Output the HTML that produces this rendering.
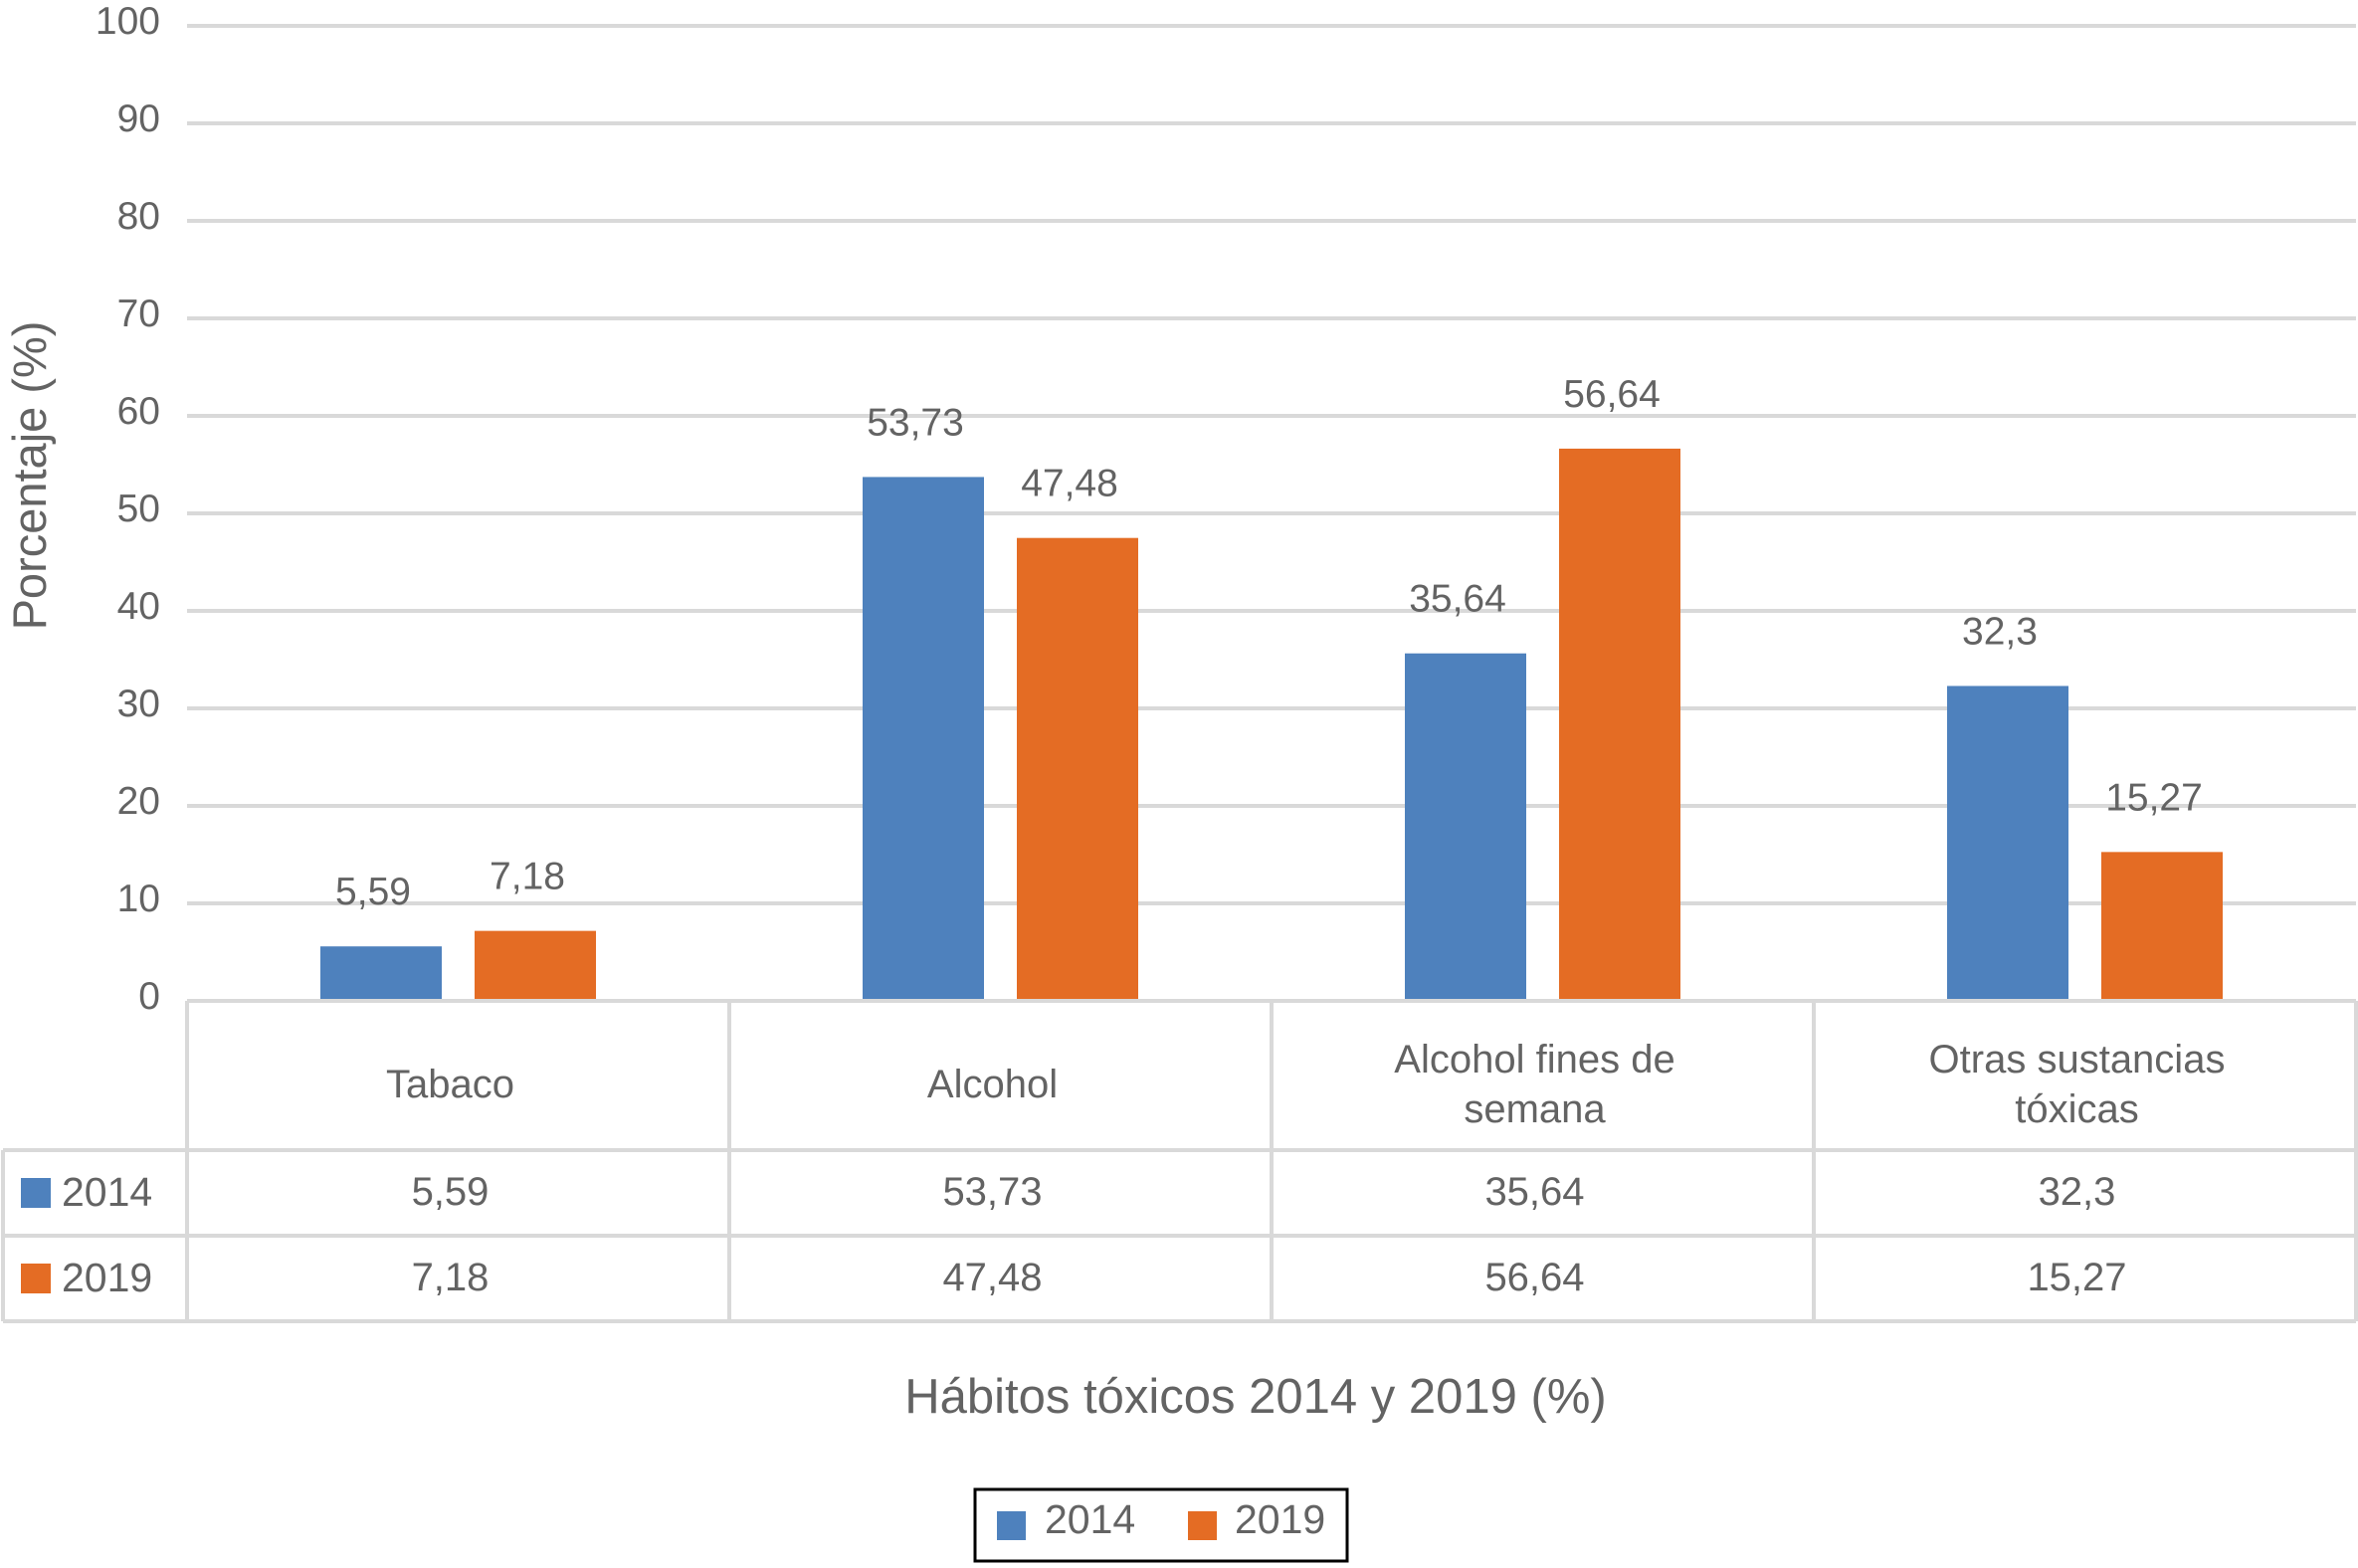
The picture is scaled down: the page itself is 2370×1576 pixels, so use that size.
<!DOCTYPE html>
<html><head><meta charset="utf-8">
<style>
html,body{margin:0;padding:0;background:#fff;}
svg text{font-family:"Liberation Sans",Arial,sans-serif;fill:#636363;}
</style></head>
<body>
<svg id="chart" width="2370" height="1571" viewBox="0 0 2370 1571" xmlns="http://www.w3.org/2000/svg">
<g id="grid"></g>
<g id="yticks"></g>
<g id="bars"></g>
<g id="labels"></g>
<g id="table"></g>
<text transform="translate(46,478) rotate(-90)" text-anchor="middle" font-size="47">Porcentaje (%)</text>
<text x="1262" y="1420" text-anchor="middle" font-size="49">Hábitos tóxicos 2014 y 2019 (%)</text>
<g>
<rect x="980" y="1497" width="374" height="72" fill="#fff" stroke="#000" stroke-width="3"/>
<rect x="1002" y="1519" width="29" height="29" fill="#4e81bd"/>
<text x="1050" y="1541" font-size="41">2014</text>
<rect x="1194" y="1519" width="29" height="29" fill="#e46c24"/>
<text x="1241" y="1541" font-size="41">2019</text>
</g>
</svg>
<script>
const categories = [["Tabaco"],["Alcohol"],["Alcohol fines de","semana"],["Otras sustancias","tóxicas"]];
const values2014 = [5.59, 53.73, 35.64, 32.3];
const values2019 = [7.18, 47.48, 56.64, 15.27];
const labels2014 = ["5,59","53,73","35,64","32,3"];
const labels2019 = ["7,18","47,48","56,64","15,27"];
const yTicks = [0,10,20,30,40,50,60,70,80,90,100];
const seriesNames = ["2014","2019"];

const NS="http://www.w3.org/2000/svg";
const L=188, R=2368, Y0=1006, Y100=26;
const y = v => Y0 - (Y0-Y100)*v/100;
const cw = (R-L)/categories.length;
const xc = i => L + cw*(i+0.5);
const BW=122, GAP=33;
function mk(tag, attrs, parent){const e=document.createElementNS(NS,tag);for(const k in attrs)e.setAttribute(k,attrs[k]);document.getElementById(parent).appendChild(e);return e;}

yTicks.forEach(t=>{
  const g=mk('line',{x1:L,x2:R,y1:y(t),y2:y(t),stroke:'#d9d9d9','stroke-width':4},'grid');
  
  
  const tx=mk('text',{x:161,y:y(t)+8,'text-anchor':'end','font-size':39},'yticks');
  tx.textContent=t;
  
  
});

const series=[[values2014,labels2014,'#4e81bd',-1],[values2019,labels2019,'#e46c24',1]];
categories.forEach((c,i)=>{
  series.forEach((s,si)=>{
    const v=s[0][i];
    const x0 = xc(i) + (s[3]<0 ? -GAP/2-BW : GAP/2);
    const r=mk('rect',{x:x0,y:y(v),width:BW,height:Y0-y(v),fill:s[2]},'bars');
    
    
    const t=mk('text',{x:x0+BW/2-8,y:y(v)-42,'text-anchor':'middle','font-size':39},'labels');
    t.textContent=s[1][i];
    
    
  });
});

// table
const T0=1006, T1=1156, T2=1242, T3=1328, TL=3;
const st={stroke:'#d9d9d9','stroke-width':4};
[[L,T0,R,T0],[TL,T1,R,T1],[TL,T2,R,T2],[TL,T3,R,T3],[TL,T1,TL,T3]].forEach(a=>{
  const l=mk('line',Object.assign({x1:a[0],y1:a[1],x2:a[2],y2:a[3]},st),'table');
  
  
});
for(let i=0;i<=categories.length;i++){
  const x=L+cw*i;
  const l=mk('line',Object.assign({x1:x,y1:T0,x2:x,y2:T3},st),'table');
  
  
}
categories.forEach((c,i)=>{
  const mid=(T0+T1)/2;
  c.forEach((line,li)=>{
    const t=mk('text',{x:xc(i)-8,y:mid+22+(li-(c.length-1)/2)*50,'text-anchor':'middle','font-size':40},'table');
    t.textContent=line;
    
    
  });
  [[labels2014,T1,T2],[labels2019,T2,T3]].forEach((r,ri)=>{
    const t=mk('text',{x:xc(i)-8,y:(r[1]+r[2])/2+12,'text-anchor':'middle','font-size':40},'table');
    t.textContent=r[0][i];
    
    
  });
});
[['#4e81bd',T1,T2],['#e46c24',T2,T3]].forEach((r,ri)=>{
  const m=(r[1]+r[2])/2;
  const sq=mk('rect',{x:21,y:m-15,width:30,height:30,fill:r[0]},'table');
  
  
  const t=mk('text',{x:62,y:m+13,'font-size':41},'table');
  t.textContent=seriesNames[ri];
  
  
});
</script>
</body></html>
